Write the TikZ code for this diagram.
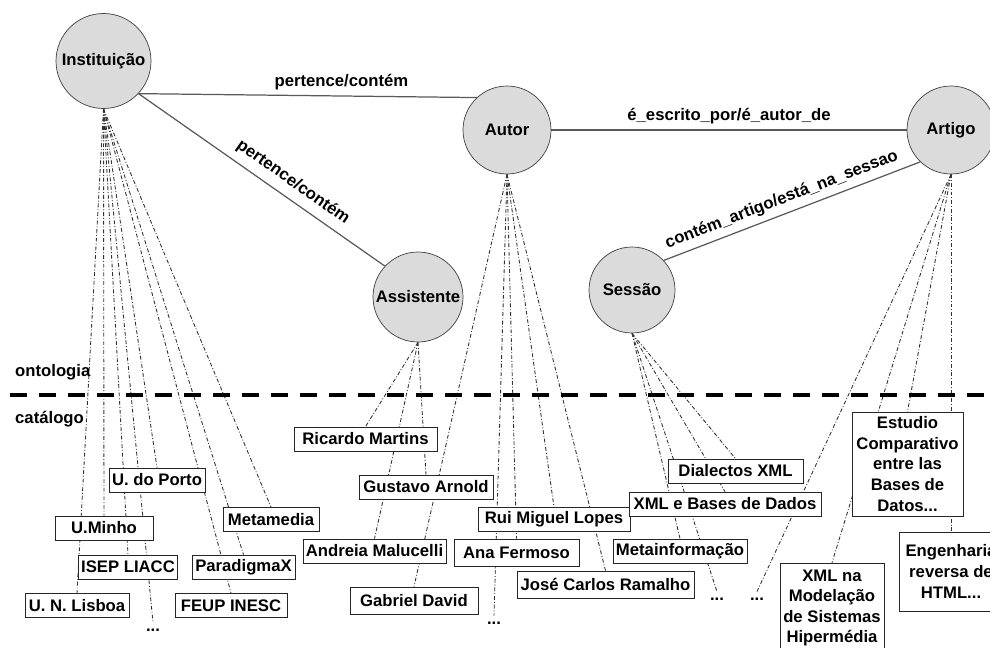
\documentclass[tikz,border=0pt]{standalone}
\usepackage{fontspec}
\setmainfont{Liberation Sans}
\usetikzlibrary{backgrounds}

\tikzset{
  rotulo/.style={font=\bfseries\fontsize{9.5}{11.7}\selectfont},
  conceito/.style={circle, draw=black!75, fill=black!14, minimum size=1.76cm, inner sep=0pt, rotulo},
  instancia/.style={draw=black!85, fill=white, minimum height=0.48cm, inner sep=0.06cm, align=center, rotulo},
  relacao/.style={draw=black!65, line width=0.7pt},
  ligacao/.style={black!80, line width=0.5pt, dash pattern=on 2.2pt off 1.1pt on 0.5pt off 1.1pt},
}

\begin{document}
\begin{tikzpicture}
\useasboundingbox (0,0) rectangle (19.8,-12.96);
\clip (0,0) rectangle (19.8,-12.96);

% ontologia
\node[conceito, minimum size=1.9cm] (inst) at (2.07,-1.22) {Instituição};
\node[conceito] (autor) at (10.14,-2.6) {Autor};
\node[conceito] (artigo) at (19.02,-2.6) {Artigo};
\node[conceito, minimum size=1.8cm] (assist) at (8.36,-5.94) {Assistente};
\node[conceito, minimum size=1.72cm] (sessao) at (12.64,-5.8) {Sessão};

\draw[relacao] (inst.-43) -- node[pos=0.6, above, rotulo]{pertence/contém} (autor.133);
\draw[relacao] (inst.-43) -- node[pos=0.59, sloped, above, yshift=1pt, rotulo]{pertence/contém} (assist.137);
\draw[relacao] (autor) -- node[above, rotulo]{é\_escrito\_por/é\_autor\_de} (artigo);
\draw[relacao] (sessao.43) -- node[pos=0.48, sloped, above, rotulo]{contém\_artigo/está\_na\_sessao} (artigo.226);

% separador
\coordinate (sepA) at (0.2,-7.9);
\coordinate (sepB) at (19.8,-7.9);
\draw[line width=2.3pt, dash pattern=on 0.34cm off 0.24cm] (sepA) -- (sepB);
\node[rotulo, anchor=west] (ont) at (0.18,-7.44) {ontologia};
\node[rotulo, anchor=west] (cat) at (0.18,-8.38) {catálogo};

% catalogo
\node[instancia, minimum width=1.82cm] (porto) at (3.14,-9.6) {U. do Porto};
\node[instancia, minimum width=1.96cm] (minho) at (2.08,-10.56) {U.Minho};
\node[instancia, minimum width=1.94cm] (isep) at (2.56,-11.34) {ISEP LIACC};
\node[instancia, minimum width=2.08cm] (lisboa) at (1.54,-12.11) {U. N. Lisboa};
\node[instancia, minimum width=1.92cm] (metamedia) at (5.42,-10.39) {Metamedia};
\node[instancia, minimum width=2.06cm] (paradigma) at (4.87,-11.34) {ParadigmaX};
\node[instancia, minimum width=2.24cm] (feup) at (4.62,-12.11) {FEUP INESC};
\node[rotulo] (pontosA) at (3.06,-12.6) {...};

\node[instancia, minimum width=2.86cm] (ricardo) at (7.31,-8.78) {Ricardo Martins};
\node[instancia, minimum width=2.68cm] (gustavo) at (8.52,-9.74) {Gustavo Arnold};
\node[instancia, minimum width=2.86cm] (andreia) at (7.49,-11.02) {Andreia Malucelli};
\node[instancia, minimum width=2.56cm, minimum height=0.54cm] (gabriel) at (8.28,-12.01) {Gabriel David};
\node[instancia, minimum width=3.04cm] (rui) at (11.08,-10.39) {Rui Miguel Lopes};
\node[instancia, minimum width=2.5cm, minimum height=0.54cm] (ana) at (10.33,-11.05) {Ana Fermoso};
\node[instancia, minimum width=3.54cm, minimum height=0.54cm] (jose) at (12.11,-11.69) {José Carlos Ramalho};
\node[rotulo] (pontosB) at (9.88,-12.46) {...};

\node[instancia, minimum width=2.7cm] (dialectos) at (14.71,-9.42) {Dialectos XML};
\node[instancia, minimum width=3.84cm] (xmlbd) at (14.5,-10.08) {XML e Bases de Dados};
\node[instancia, minimum width=2.68cm] (metainf) at (13.6,-11.02) {Metainformação};
\node[rotulo] (pontosC) at (14.34,-11.98) {...};
\node[rotulo] (pontosD) at (15.14,-11.98) {...};

\node[instancia, minimum width=2.22cm, minimum height=2.08cm] (estudio) at (18.15,-9.28) {Estudio\\Comparativo\\entre las\\Bases de\\Datos...};
\node[instancia, minimum width=2.08cm, minimum height=1.8cm] (xmlna) at (16.64,-12.16) {XML na\\Modelação\\de Sistemas\\Hipermédia};
\node[instancia, minimum width=2.08cm, minimum height=1.58cm] (engenharia) at (19.02,-11.43) {Engenharia\\reversa de\\HTML...};

% ligacoes conceito -> instancia
\begin{scope}[on background layer]
\foreach \d in {lisboa, minho, isep, pontosA, porto, feup, paradigma, metamedia}
  \draw[ligacao] (inst.south) -- (\d.north);
\foreach \d in {ricardo, gustavo, andreia}
  \draw[ligacao] (assist.south) -- (\d.north);
\foreach \d in {gabriel, pontosB, ana, rui, jose}
  \draw[ligacao] (autor.south) -- (\d.north);
\foreach \d in {metainf, pontosC, xmlbd, dialectos}
  \draw[ligacao] (sessao.south) -- (\d.north);
\foreach \d in {pontosD, xmlna, estudio, engenharia}
  \draw[ligacao] (artigo.south) -- (\d.north);
\end{scope}
\end{tikzpicture}
\end{document}
